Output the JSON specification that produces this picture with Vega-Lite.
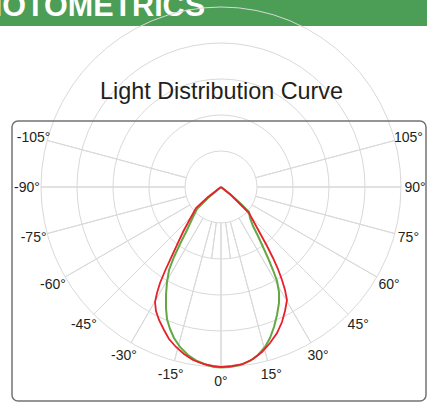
{
  "$schema": "https://vega.github.io/schema/vega-lite/v6.json",
  "width": 427,
  "height": 404,
  "padding": 0,
  "autosize": {"type": "none"},
  "config": {"view": {"stroke": null}},
  "datasets": {
    "rings": [{"r": 1}, {"r": 2}, {"r": 3}, {"r": 4}, {"r": 5}],
    "spokes": [{"angle": -105}, {"angle": -90}, {"angle": -75}, {"angle": -60}, {"angle": -45}, {"angle": -30}, {"angle": -15}, {"angle": 0}, {"angle": 15}, {"angle": 30}, {"angle": 45}, {"angle": 60}, {"angle": 75}, {"angle": 90}, {"angle": 105}],
    "minor": [{"angle": -7.5}, {"angle": 7.5}],
    "labels": [
      {"angle": -105, "label": "-105°"}, {"angle": -90, "label": "-90°"}, {"angle": -75, "label": "-75°"},
      {"angle": -60, "label": "-60°"}, {"angle": -45, "label": "-45°"}, {"angle": -30, "label": "-30°"},
      {"angle": -15, "label": "-15°"}, {"angle": 0, "label": "0°"}, {"angle": 15, "label": "15°"},
      {"angle": 30, "label": "30°"}, {"angle": 45, "label": "45°"}, {"angle": 60, "label": "60°"},
      {"angle": 75, "label": "75°"}, {"angle": 90, "label": "90°"}, {"angle": 105, "label": "105°"}
    ],
    "curves": [
      {"curve": "C0/180", "i": 1, "x": 0, "y": 0},
      {"curve": "C0/180", "i": 2, "x": -0.361, "y": -0.278},
      {"curve": "C0/180", "i": 3, "x": -0.694, "y": -0.583},
      {"curve": "C0/180", "i": 4, "x": -0.861, "y": -0.889},
      {"curve": "C0/180", "i": 5, "x": -1.056, "y": -1.25},
      {"curve": "C0/180", "i": 6, "x": -1.222, "y": -1.611},
      {"curve": "C0/180", "i": 7, "x": -1.389, "y": -1.972},
      {"curve": "C0/180", "i": 8, "x": -1.556, "y": -2.333},
      {"curve": "C0/180", "i": 9, "x": -1.694, "y": -2.667},
      {"curve": "C0/180", "i": 10, "x": -1.778, "y": -2.944},
      {"curve": "C0/180", "i": 11, "x": -1.833, "y": -3.194},
      {"curve": "C0/180", "i": 12, "x": -1.806, "y": -3.444},
      {"curve": "C0/180", "i": 13, "x": -1.722, "y": -3.694},
      {"curve": "C0/180", "i": 14, "x": -1.583, "y": -3.972},
      {"curve": "C0/180", "i": 15, "x": -1.444, "y": -4.222},
      {"curve": "C0/180", "i": 16, "x": -1.25, "y": -4.444},
      {"curve": "C0/180", "i": 17, "x": -1.028, "y": -4.639},
      {"curve": "C0/180", "i": 18, "x": -0.778, "y": -4.806},
      {"curve": "C0/180", "i": 19, "x": -0.472, "y": -4.917},
      {"curve": "C0/180", "i": 20, "x": -0.222, "y": -4.972},
      {"curve": "C0/180", "i": 21, "x": 0, "y": -5.0},
      {"curve": "C0/180", "i": 22, "x": 0.306, "y": -4.972},
      {"curve": "C0/180", "i": 23, "x": 0.611, "y": -4.917},
      {"curve": "C0/180", "i": 24, "x": 0.889, "y": -4.778},
      {"curve": "C0/180", "i": 25, "x": 1.139, "y": -4.583},
      {"curve": "C0/180", "i": 26, "x": 1.361, "y": -4.333},
      {"curve": "C0/180", "i": 27, "x": 1.556, "y": -4.056},
      {"curve": "C0/180", "i": 28, "x": 1.694, "y": -3.75},
      {"curve": "C0/180", "i": 29, "x": 1.778, "y": -3.444},
      {"curve": "C0/180", "i": 30, "x": 1.833, "y": -3.139},
      {"curve": "C0/180", "i": 31, "x": 1.778, "y": -2.861},
      {"curve": "C0/180", "i": 32, "x": 1.694, "y": -2.583},
      {"curve": "C0/180", "i": 33, "x": 1.583, "y": -2.278},
      {"curve": "C0/180", "i": 34, "x": 1.444, "y": -1.972},
      {"curve": "C0/180", "i": 35, "x": 1.278, "y": -1.639},
      {"curve": "C0/180", "i": 36, "x": 1.111, "y": -1.333},
      {"curve": "C0/180", "i": 37, "x": 0.944, "y": -1.028},
      {"curve": "C0/180", "i": 38, "x": 0.778, "y": -0.722},
      {"curve": "C0/180", "i": 39, "x": 0.528, "y": -0.472},
      {"curve": "C0/180", "i": 40, "x": 0.278, "y": -0.222},
      {"curve": "C0/180", "i": 41, "x": 0, "y": 0},
      {"curve": "C90/270", "i": 1, "x": 0, "y": 0},
      {"curve": "C90/270", "i": 2, "x": -0.361, "y": -0.306},
      {"curve": "C90/270", "i": 3, "x": -0.667, "y": -0.611},
      {"curve": "C90/270", "i": 4, "x": -0.778, "y": -0.833},
      {"curve": "C90/270", "i": 5, "x": -0.944, "y": -1.194},
      {"curve": "C90/270", "i": 6, "x": -1.139, "y": -1.583},
      {"curve": "C90/270", "i": 7, "x": -1.306, "y": -1.944},
      {"curve": "C90/270", "i": 8, "x": -1.444, "y": -2.306},
      {"curve": "C90/270", "i": 9, "x": -1.5, "y": -2.639},
      {"curve": "C90/270", "i": 10, "x": -1.528, "y": -3.0},
      {"curve": "C90/270", "i": 11, "x": -1.528, "y": -3.361},
      {"curve": "C90/270", "i": 12, "x": -1.5, "y": -3.667},
      {"curve": "C90/270", "i": 13, "x": -1.417, "y": -3.944},
      {"curve": "C90/270", "i": 14, "x": -1.306, "y": -4.194},
      {"curve": "C90/270", "i": 15, "x": -1.139, "y": -4.444},
      {"curve": "C90/270", "i": 16, "x": -0.917, "y": -4.667},
      {"curve": "C90/270", "i": 17, "x": -0.667, "y": -4.833},
      {"curve": "C90/270", "i": 18, "x": -0.389, "y": -4.944},
      {"curve": "C90/270", "i": 19, "x": -0.194, "y": -5.0},
      {"curve": "C90/270", "i": 20, "x": 0, "y": -5.014},
      {"curve": "C90/270", "i": 21, "x": 0.25, "y": -5.0},
      {"curve": "C90/270", "i": 22, "x": 0.528, "y": -4.944},
      {"curve": "C90/270", "i": 23, "x": 0.806, "y": -4.833},
      {"curve": "C90/270", "i": 24, "x": 1.028, "y": -4.667},
      {"curve": "C90/270", "i": 25, "x": 1.222, "y": -4.444},
      {"curve": "C90/270", "i": 26, "x": 1.361, "y": -4.194},
      {"curve": "C90/270", "i": 27, "x": 1.472, "y": -3.889},
      {"curve": "C90/270", "i": 28, "x": 1.556, "y": -3.556},
      {"curve": "C90/270", "i": 29, "x": 1.611, "y": -3.222},
      {"curve": "C90/270", "i": 30, "x": 1.611, "y": -2.917},
      {"curve": "C90/270", "i": 31, "x": 1.556, "y": -2.611},
      {"curve": "C90/270", "i": 32, "x": 1.444, "y": -2.306},
      {"curve": "C90/270", "i": 33, "x": 1.306, "y": -1.972},
      {"curve": "C90/270", "i": 34, "x": 1.167, "y": -1.667},
      {"curve": "C90/270", "i": 35, "x": 1.028, "y": -1.361},
      {"curve": "C90/270", "i": 36, "x": 0.889, "y": -1.083},
      {"curve": "C90/270", "i": 37, "x": 0.806, "y": -0.861},
      {"curve": "C90/270", "i": 38, "x": 0.778, "y": -0.694},
      {"curve": "C90/270", "i": 39, "x": 0.528, "y": -0.444},
      {"curve": "C90/270", "i": 40, "x": 0.278, "y": -0.222},
      {"curve": "C90/270", "i": 41, "x": 0, "y": 0}
    ]
  },
  "layer": [
    {
      "data": {"values": [{}]},
      "mark": {"type": "rect", "color": "#4c9e56"},
      "encoding": {
        "x": {"datum": -6.1389, "type": "quantitative", "scale": {"domain": [-6.1389, 5.7222], "nice": false, "zero": false}, "axis": null},
        "x2": {"datum": 5.7222},
        "y": {"datum": 5.1944, "type": "quantitative", "scale": {"domain": [-6.0278, 5.1944], "nice": false, "zero": false}, "axis": null},
        "y2": {"datum": 4.4722}
      }
    },
    {
      "data": {"values": [{}]},
      "mark": {"type": "text", "text": "PHOTOMETRICS", "align": "right", "baseline": "alphabetic", "font": "Liberation Sans", "fontSize": 30.5, "fontWeight": "bold", "color": "#ffffff"},
      "encoding": {
        "x": {"datum": -0.4444, "type": "quantitative"},
        "y": {"datum": 4.7361, "type": "quantitative"}
      }
    },
    {
      "data": {"name": "rings"},
      "mark": {"type": "arc", "filled": false, "stroke": "#d9d9d9", "strokeWidth": 1},
      "encoding": {
        "x": {"datum": 0, "type": "quantitative"},
        "y": {"datum": 0, "type": "quantitative"},
        "theta": {"datum": -180, "type": "quantitative", "scale": {"domain": [-180, 180], "range": [6.2832, 0]}},
        "theta2": {"datum": 180},
        "radius": {"field": "r", "type": "quantitative", "stack": null, "scale": {"type": "linear", "domain": [0, 5], "range": [0, 180], "zero": true}}
      }
    },
    {
      "data": {"name": "spokes"},
      "mark": {"type": "arc", "filled": false, "stroke": "#d9d9d9", "strokeWidth": 1},
      "encoding": {
        "x": {"datum": 0, "type": "quantitative"},
        "y": {"datum": 0, "type": "quantitative"},
        "theta": {"field": "angle", "type": "quantitative", "stack": null},
        "theta2": {"field": "angle"},
        "radius": {"datum": 5, "type": "quantitative"},
        "radius2": {"datum": 1}
      }
    },
    {
      "data": {"name": "minor"},
      "mark": {"type": "arc", "filled": false, "stroke": "#d9d9d9", "strokeWidth": 1},
      "encoding": {
        "x": {"datum": 0, "type": "quantitative"},
        "y": {"datum": 0, "type": "quantitative"},
        "theta": {"field": "angle", "type": "quantitative", "stack": null},
        "theta2": {"field": "angle"},
        "radius": {"datum": 2, "type": "quantitative"},
        "radius2": {"datum": 1}
      }
    },
    {
      "data": {"values": [{}]},
      "mark": {"type": "rect", "filled": false, "stroke": "#737373", "strokeWidth": 1.5, "cornerRadius": 6},
      "encoding": {
        "x": {"datum": -5.8056, "type": "quantitative"},
        "x2": {"datum": 5.6944},
        "y": {"datum": 1.8333, "type": "quantitative"},
        "y2": {"datum": -5.9444}
      }
    },
    {
      "data": {"values": [{}]},
      "mark": {"type": "text", "text": "Light Distribution Curve", "align": "center", "baseline": "alphabetic", "font": "Liberation Sans", "fontSize": 23.4, "color": "#231f20"},
      "encoding": {
        "x": {"datum": 0.014, "type": "quantitative"},
        "y": {"datum": 2.444, "type": "quantitative"}
      }
    },
    {
      "data": {"name": "labels"},
      "mark": {"type": "text", "align": "center", "baseline": "middle", "font": "Liberation Sans", "fontSize": 14, "color": "#231f20", "radius": 194, "dy": 1},
      "encoding": {
        "x": {"datum": 0, "type": "quantitative"},
        "y": {"datum": 0, "type": "quantitative"},
        "theta": {"field": "angle", "type": "quantitative", "stack": null},
        "text": {"field": "label"}
      }
    },
    {
      "data": {"name": "curves"},
      "transform": [{"filter": "datum.curve === 'C90/270'"}],
      "mark": {"type": "line", "color": "#62a844", "strokeWidth": 2, "interpolate": "linear"},
      "encoding": {
        "x": {"field": "x", "type": "quantitative"},
        "y": {"field": "y", "type": "quantitative"},
        "order": {"field": "i", "type": "quantitative"}
      }
    },
    {
      "data": {"name": "curves"},
      "transform": [{"filter": "datum.curve === 'C0/180'"}],
      "mark": {"type": "line", "color": "#e8202a", "strokeWidth": 1.8, "interpolate": "linear"},
      "encoding": {
        "x": {"field": "x", "type": "quantitative"},
        "y": {"field": "y", "type": "quantitative"},
        "order": {"field": "i", "type": "quantitative"}
      }
    }
  ]
}
